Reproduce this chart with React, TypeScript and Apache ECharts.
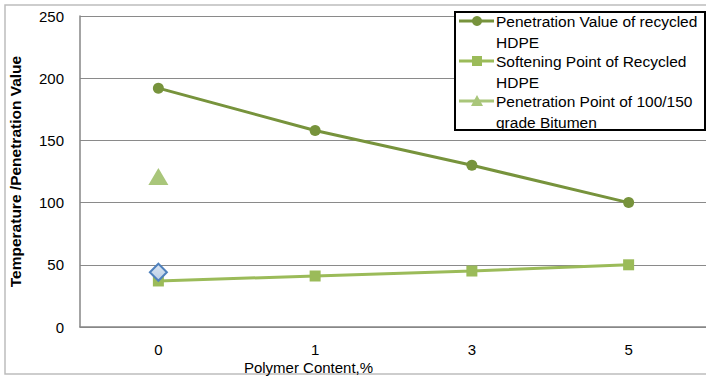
import React, { useEffect, useRef } from "react";
import * as echarts from "echarts";

const categories = ["0", "1", "3", "5"];
const penetrationHDPE = [192, 158, 130, 100];
const softeningHDPE = [37, 41, 45, 50];
const penetrationBitumen = [121, null, null, null];
const softeningBitumen = [44, null, null, null];
const seriesNames = [
  ["Penetration Value of recycled", "HDPE"],
  ["Softening Point of Recycled", "HDPE"],
  ["Penetration Point of 100/150", "grade Bitumen"],
];
const yTicks = { min: 0, max: 250, interval: 50 };

const FONT = "Liberation Sans";
const C1 = "#77933C";
const C2 = "#9BBB59";
const C3 = "#A9C67A";

export default function App() {
  const ref = useRef<HTMLDivElement>(null);
  useEffect(() => {
    const chart = echarts.init(ref.current!, null, { renderer: "svg" });
    const lx = 455, ly = 12;
    const icons = [
      { color: C1, shape: "circle" },
      { color: C2, shape: "rect" },
      { color: C3, shape: "triangle" },
    ];
    const legendEls: any[] = [
      {
        type: "rect",
        shape: { x: lx, y: ly, width: 250, height: 118 },
        style: { fill: "#fff", stroke: "#000", lineWidth: 2 },
        z: 10,
      },
    ];
    seriesNames.forEach((lines, i) => {
      const cy = ly + 9 + i * 40;
      const ic = icons[i];
      legendEls.push({
        type: "line",
        shape: { x1: lx + 4, y1: cy, x2: lx + 39, y2: cy },
        style: { stroke: ic.color, lineWidth: 3 },
        z: 11,
      });
      if (ic.shape === "circle") {
        legendEls.push({ type: "circle", shape: { cx: lx + 22, cy, r: 5 }, style: { fill: ic.color }, z: 12 });
      } else if (ic.shape === "rect") {
        legendEls.push({ type: "rect", shape: { x: lx + 17, y: cy - 5, width: 10, height: 10 }, style: { fill: ic.color }, z: 12 });
      } else {
        legendEls.push({
          type: "polygon",
          shape: { points: [[lx + 22, cy - 6], [lx + 28, cy + 5], [lx + 16, cy + 5]] },
          style: { fill: ic.color },
          z: 12,
        });
      }
      lines.forEach((t, j) => {
        legendEls.push({
          type: "text",
          x: lx + 41,
          y: cy + j * 21,
          style: { text: t, fill: "#000", font: `15.5px '${FONT}'`, verticalAlign: "middle", align: "left" },
          z: 12,
        });
      });
    });

    chart.setOption({
      animation: false,
      grid: { left: 80, top: 16, right: -1, bottom: 51, containLabel: false, outerBoundsMode: "none" },
      xAxis: {
        type: "category",
        data: categories,
        boundaryGap: true,
        name: "Polymer Content,%",
        nameLocation: "middle",
        nameGap: 33,
        nameMoveOverlap: false,
        nameTextStyle: { color: "#000", fontFamily: FONT, fontSize: 15, padding: [0, 0, 0, -170] },
        axisLine: { lineStyle: { color: "#868686", width: 1.5 } },
        axisTick: { show: false },
        axisLabel: { color: "#000", fontFamily: FONT, fontSize: 15, margin: 15 },
      },
      yAxis: {
        type: "value",
        min: yTicks.min,
        max: yTicks.max,
        interval: yTicks.interval,
        name: "Temperature /Penetration Value",
        nameLocation: "middle",
        nameGap: 57,
        nameMoveOverlap: false,
        nameTextStyle: { color: "#000", fontFamily: FONT, fontSize: 15.5, fontWeight: "bold" },
        axisLine: { show: true, lineStyle: { color: "#868686", width: 1.5 } },
        axisTick: { show: false },
        splitLine: { lineStyle: { color: "#8a8a8a", width: 1 } },
        axisLabel: { color: "#000", fontFamily: FONT, fontSize: 15, margin: 16 },
      },
      series: [
        {
          name: seriesNames[0].join(" "),
          type: "line",
          data: penetrationHDPE,
          symbol: "circle",
          symbolSize: 11,
          lineStyle: { color: C1, width: 3 },
          itemStyle: { color: C1 },
        },
        {
          name: seriesNames[1].join(" "),
          type: "line",
          data: softeningHDPE,
          symbol: "rect",
          symbolSize: 11,
          lineStyle: { color: C2, width: 3 },
          itemStyle: { color: C2 },
        },
        {
          name: seriesNames[2].join(" "),
          type: "line",
          data: penetrationBitumen,
          symbol: "triangle",
          symbolSize: [20, 17],
          lineStyle: { color: C3, width: 3 },
          itemStyle: { color: C3 },
        },
        {
          name: "Softening Point of 100/150 grade Bitumen",
          type: "line",
          data: softeningBitumen,
          symbol: "diamond",
          symbolSize: [17, 17],
          lineStyle: { width: 0 },
          itemStyle: {
            color: new echarts.graphic.LinearGradient(0, 0, 0, 1, [
              { offset: 0, color: "#DCE6F2" },
              { offset: 1, color: "#B9CDE5" },
            ]),
            borderColor: "#4F81BD",
            borderWidth: 2,
          },
          z: 5,
        },
      ],
      graphic: [
        {
          type: "rect",
          shape: { x: 5, y: 5, width: 720, height: 369 },
          style: { fill: "none", stroke: "#bdbdbd", lineWidth: 1.5 },
          z: -1,
          silent: true,
        },
        ...legendEls,
      ],
    });
    return () => chart.dispose();
  }, []);
  return (
    <div
      ref={ref}
      style={{ position: "absolute", left: 0, top: 0, width: 706, height: 378, background: "#fff" }}
    />
  );
}
